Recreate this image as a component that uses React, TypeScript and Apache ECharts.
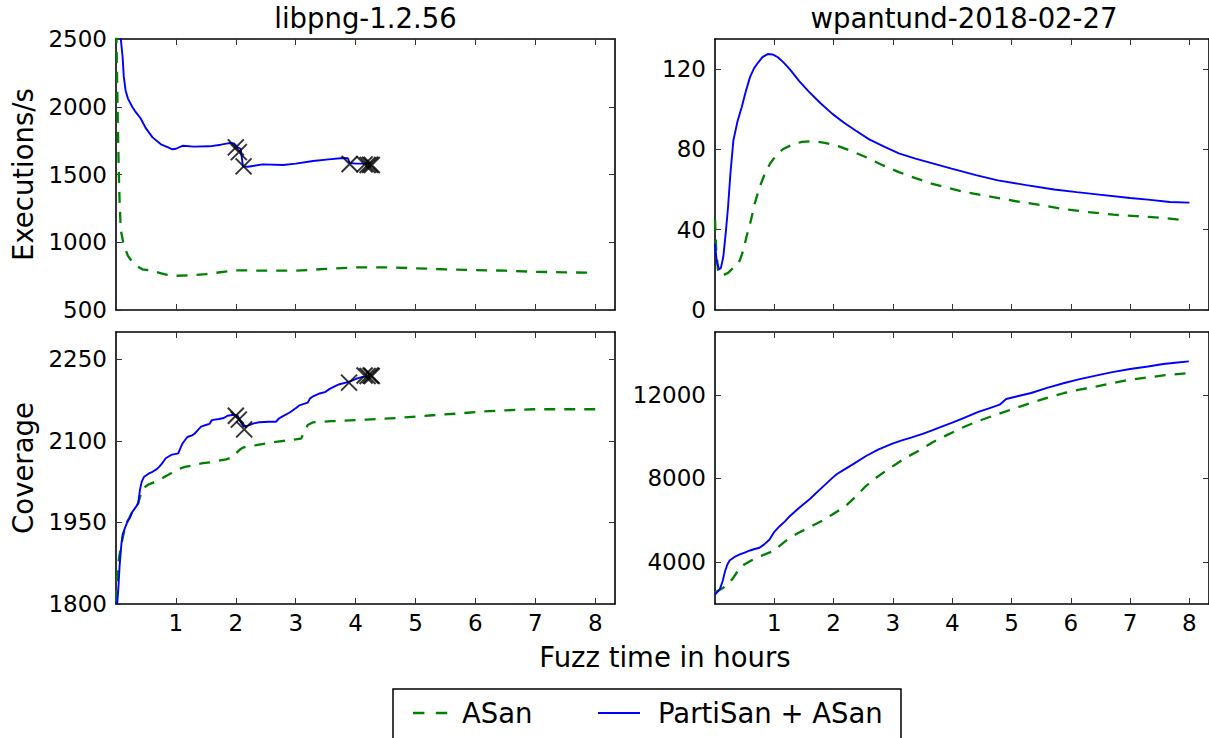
import React, { useEffect, useRef } from "react";
import * as echarts from "echarts";

// ---------- data (time in hours, values) ----------
const hourTicks = [1, 2, 3, 4, 5, 6, 7, 8];

// libpng executions/s
const libpngExecAsanT = [0, 0.015, 0.03, 0.045, 0.06, 0.08, 0.12, 0.16, 0.2, 0.25, 0.33, 0.44, 0.6, 0.8, 0.95, 1.2, 1.5, 2.0, 2.5, 3.0, 3.5, 4.0, 4.5, 5.0, 5.5, 6.0, 6.5, 7.0, 7.5, 8.0];
const libpngExecAsanV = [2700, 2300, 1900, 1550, 1300, 1090, 1000, 943, 900, 869, 830, 800, 790, 765, 752, 755, 765, 793, 790, 790, 803, 815, 815, 808, 800, 795, 790, 782, 778, 775];
const libpngExecPartiT = [0.05, 0.08, 0.11, 0.13, 0.16, 0.2, 0.27, 0.33, 0.41, 0.5, 0.61, 0.75, 0.87, 0.94, 1.0, 1.11, 1.3, 1.56, 1.75, 1.89, 1.97, 2.03, 2.08, 2.12, 2.2, 2.45, 2.79, 3.0, 3.29, 3.55, 3.79, 3.87, 3.9, 4.0, 4.1, 4.23];
const libpngExecPartiV = [2900, 2500, 2369, 2222, 2120, 2060, 2000, 1960, 1915, 1840, 1774, 1723, 1700, 1686, 1690, 1712, 1706, 1708, 1720, 1732, 1730, 1700, 1690, 1560, 1557, 1575, 1570, 1580, 1600, 1612, 1622, 1620, 1585, 1580, 1580, 1578];
const libpngExecCrashT = [2.0, 2.05, 2.13, 3.9, 4.15, 4.2, 4.24, 4.27];
const libpngExecCrashV = [1700, 1665, 1560, 1578, 1575, 1570, 1572, 1570];

// libpng coverage
const libpngCovAsanT = [0.0, 0.02, 0.05, 0.08, 0.11, 0.16, 0.22, 0.27, 0.33, 0.37, 0.41, 0.44, 0.55, 0.72, 0.85, 1.0, 1.15, 1.28, 1.45, 1.61, 1.84, 1.95, 2.0, 2.06, 2.11, 2.2, 2.34, 2.5, 2.73, 2.9, 3.09, 3.15, 3.2, 3.29, 3.6, 4.18, 4.7, 5.29, 5.7, 6.13, 6.5, 6.97, 7.5, 8.0];
const libpngCovAsanV = [1805, 1850, 1884, 1905, 1921, 1945, 1958, 1969, 1978, 1985, 2000, 2012, 2020, 2028, 2036, 2046, 2052, 2055, 2059, 2061, 2066, 2070, 2077, 2083, 2087, 2090, 2092, 2095, 2099, 2101, 2104, 2118, 2129, 2134, 2136, 2139, 2142, 2147, 2150, 2154, 2156, 2158, 2158, 2158];
const libpngCovPartiT = [0.02, 0.04, 0.06, 0.09, 0.11, 0.15, 0.19, 0.23, 0.27, 0.33, 0.37, 0.4, 0.43, 0.47, 0.55, 0.61, 0.68, 0.72, 0.78, 0.83, 0.92, 1.04, 1.08, 1.11, 1.19, 1.27, 1.31, 1.37, 1.42, 1.5, 1.56, 1.6, 1.72, 1.8, 1.86, 1.97, 2.03, 2.08, 2.13, 2.2, 2.3, 2.39, 2.55, 2.67, 2.72, 2.78, 2.9, 3.0, 3.06, 3.2, 3.24, 3.28, 3.4, 3.5, 3.56, 3.65, 3.73, 3.87, 3.95, 4.01, 4.1, 4.23];
const libpngCovPartiV = [1800, 1830, 1870, 1910, 1927, 1940, 1951, 1958, 1969, 1978, 1985, 2010, 2025, 2034, 2040, 2043, 2048, 2052, 2060, 2068, 2074, 2077, 2088, 2095, 2107, 2110, 2113, 2120, 2126, 2129, 2131, 2138, 2140, 2142, 2146, 2148, 2146, 2135, 2126, 2128, 2132, 2134, 2135, 2135, 2141, 2145, 2152, 2160, 2165, 2170, 2178, 2181, 2187, 2190, 2195, 2200, 2204, 2208, 2211, 2214, 2217, 2219];
const libpngCovCrashT = [2.0, 2.05, 2.14, 3.89, 4.15, 4.2, 4.25, 4.27];
const libpngCovCrashV = [2146, 2139, 2121, 2207, 2220, 2219, 2220, 2219];

// wpantund executions/s
const wpanExecAsanT = [0, 0.02, 0.05, 0.08, 0.15, 0.22, 0.28, 0.35, 0.42, 0.48, 0.53, 0.6, 0.67, 0.75, 0.84, 0.93, 1.03, 1.15, 1.31, 1.47, 1.65, 1.85, 2.09, 2.3, 2.54, 2.8, 3.1, 3.38, 3.65, 3.9, 4.21, 4.6, 5.05, 5.5, 5.89, 6.3, 6.72, 7.1, 7.56, 7.9];
const wpanExecAsanV = [45, 30, 20, 17.4, 17.5, 18.5, 20.2, 22, 24.8, 30, 36.4, 44, 53, 61, 67.9, 73, 77, 80.2, 82.5, 83.8, 84.1, 83.3, 81.5, 79.2, 76.2, 72.5, 68.7, 65.7, 63, 61, 58.8, 56.7, 54.3, 52.2, 50.2, 48.8, 47.5, 46.8, 45.9, 44.7];
const wpanExecPartiT = [0, 0.03, 0.07, 0.1, 0.14, 0.18, 0.22, 0.26, 0.31, 0.38, 0.45, 0.52, 0.59, 0.66, 0.73, 0.8, 0.89, 0.97, 1.06, 1.15, 1.26, 1.42, 1.59, 1.78, 1.98, 2.17, 2.37, 2.6, 2.87, 3.1, 3.38, 3.7, 3.99, 4.4, 4.77, 5.25, 5.72, 6.1, 6.44, 7.0, 7.3, 7.67, 8.0];
const wpanExecPartiV = [33, 24, 20.2, 21, 26.5, 38, 51.3, 68, 84.5, 94, 101, 109, 116, 120.5, 123.4, 126, 127.5, 127.3, 125.9, 123.5, 120, 114, 108.5, 103, 97.7, 93.4, 89.4, 85, 81.1, 78, 75.4, 72.8, 70.4, 67.2, 64.6, 62.2, 60, 58.7, 57.6, 55.8, 55, 53.8, 53.5];

// wpantund coverage
const wpanCovAsanT = [0, 0.14, 0.22, 0.31, 0.42, 0.5, 0.59, 0.78, 0.98, 1.1, 1.26, 1.45, 1.65, 1.82, 1.98, 2.2, 2.38, 2.54, 2.7, 2.87, 3.05, 3.21, 3.45, 3.65, 3.9, 4.16, 4.4, 4.66, 5.0, 5.33, 5.6, 5.89, 6.15, 6.44, 6.7, 7.0, 7.3, 7.56, 7.8, 7.99];
const wpanCovAsanV = [2550, 2778, 2950, 3255, 3733, 3900, 4048, 4300, 4525, 4800, 5165, 5460, 5752, 6000, 6277, 6673, 7150, 7627, 8000, 8343, 8680, 8983, 9350, 9699, 10060, 10415, 10700, 10968, 11300, 11608, 11850, 12085, 12250, 12400, 12560, 12720, 12830, 12926, 12990, 13040];
const wpanCovPartiT = [0, 0.08, 0.13, 0.17, 0.21, 0.25, 0.33, 0.42, 0.5, 0.59, 0.67, 0.75, 0.83, 0.92, 1.0, 1.09, 1.18, 1.26, 1.42, 1.59, 1.78, 1.98, 2.05, 2.15, 2.35, 2.54, 2.75, 2.98, 3.15, 3.32, 3.5, 3.65, 3.8, 3.99, 4.2, 4.44, 4.62, 4.8, 4.91, 5.1, 5.33, 5.6, 5.89, 6.15, 6.44, 6.7, 7.0, 7.3, 7.56, 7.8, 7.99];
const wpanCovPartiV = [2450, 2700, 3100, 3570, 3900, 4095, 4250, 4367, 4460, 4558, 4630, 4687, 4850, 5083, 5450, 5718, 5950, 6196, 6600, 6993, 7500, 8028, 8200, 8377, 8720, 9060, 9380, 9651, 9820, 9967, 10130, 10286, 10450, 10653, 10900, 11178, 11350, 11527, 11799, 11930, 12085, 12330, 12563, 12750, 12926, 13080, 13231, 13350, 13470, 13540, 13594];

// axis ticks
const libpngExecTicks = [500, 1000, 1500, 2000, 2500];
const libpngCovTicks = [1800, 1950, 2100, 2250];
const wpanExecTicks = [0, 40, 80, 120];
const wpanCovTicks = [4000, 8000, 12000];

const titles = ["libpng-1.2.56", "wpantund-2018-02-27"];
const yNames = ["Executions/s", "Coverage"];
const xName = "Fuzz time in hours";
const legendNames = ["ASan", "PartiSan + ASan"];

// ---------- styling ----------
const FONT = "DejaVu Sans";
const GREEN = "#008000";
const BLUE = "#0000ff";

const pairs = (t: number[], v: number[]) => t.map((x, i) => [x, v[i]]);

export default function App() {
  const ref = useRef<HTMLDivElement>(null);
  useEffect(() => {
    if (!ref.current) return;
    const chart = echarts.init(ref.current, null, { renderer: "svg" });

    const grids = [
      { left: 116, top: 39, width: 499, height: 271 },
      { left: 715, top: 39, width: 498, height: 271 },
      { left: 116, top: 332, width: 499, height: 272 },
      { left: 715, top: 332, width: 498, height: 272 },
    ];
    const yRanges = [
      { min: 500, max: 2500, ticks: libpngExecTicks },
      { min: 0, max: 135, ticks: wpanExecTicks },
      { min: 1800, max: 2300, ticks: libpngCovTicks },
      { min: 2000, max: 15000, ticks: wpanCovTicks },
    ];

    const axisLine = { show: true, onZero: false, lineStyle: { color: "#000", width: 1.6 } };
    const tickStyle = { color: "#333", width: 1 };
    const plain = (v: number) => String(v);

    const xAxis: any[] = [];
    const yAxis: any[] = [];
    grids.forEach((_, i) => {
      ["bottom", "top"].forEach((pos) => {
        xAxis.push({
          type: "value",
          gridIndex: i,
          position: pos,
          min: 0,
          max: 8.33,
          axisLine,
          splitLine: { show: false },
          axisTick: { show: true, inside: true, length: 6, customValues: hourTicks, lineStyle: tickStyle },
          axisLabel: {
            show: pos === "bottom" && i >= 2,
            customValues: hourTicks,
            formatter: plain,
            fontFamily: FONT,
            fontSize: 23,
            color: "#000",
            margin: 7,
          },
        });
      });
      ["left", "right"].forEach((pos) => {
        yAxis.push({
          type: "value",
          gridIndex: i,
          position: pos,
          min: yRanges[i].min,
          max: yRanges[i].max,
          axisLine,
          splitLine: { show: false },
          axisTick: { show: true, inside: true, length: 6, customValues: yRanges[i].ticks, lineStyle: tickStyle },
          axisLabel: {
            show: pos === "left",
            customValues: yRanges[i].ticks,
            formatter: plain,
            fontFamily: FONT,
            fontSize: 23,
            color: "#000",
            margin: 9,
          },
        });
      });
    });

    const asanLine = (i: number, data: number[][]) => ({
      type: "line",
      name: legendNames[0],
      xAxisIndex: 2 * i,
      yAxisIndex: 2 * i,
      data,
      showSymbol: false,
      symbol: "none",
      clip: true,
      lineStyle: { color: GREEN, width: 2.3, type: [11, 9] },
      z: 2,
    });
    const partiLine = (i: number, data: number[][]) => ({
      type: "line",
      name: legendNames[1],
      xAxisIndex: 2 * i,
      yAxisIndex: 2 * i,
      data,
      showSymbol: false,
      symbol: "none",
      clip: true,
      lineStyle: { color: BLUE, width: 1.9 },
      z: 3,
    });
    const crashes = (i: number, data: number[][]) => ({
      type: "scatter",
      name: "crash",
      xAxisIndex: 2 * i,
      yAxisIndex: 2 * i,
      data,
      symbol: "path://M0,0L10,10M10,0L0,10",
      symbolSize: 16,
      itemStyle: { color: "none", borderColor: "#000", borderWidth: 2 },
      z: 4,
    });

    const series = [
      asanLine(0, pairs(libpngExecAsanT, libpngExecAsanV)),
      partiLine(0, pairs(libpngExecPartiT, libpngExecPartiV)),
      crashes(0, pairs(libpngExecCrashT, libpngExecCrashV)),
      asanLine(1, pairs(wpanExecAsanT, wpanExecAsanV)),
      partiLine(1, pairs(wpanExecPartiT, wpanExecPartiV)),
      asanLine(2, pairs(libpngCovAsanT, libpngCovAsanV)),
      partiLine(2, pairs(libpngCovPartiT, libpngCovPartiV)),
      crashes(2, pairs(libpngCovCrashT, libpngCovCrashV)),
      asanLine(3, pairs(wpanCovAsanT, wpanCovAsanV)),
      partiLine(3, pairs(wpanCovPartiT, wpanCovPartiV)),
    ];

    const txt = (text: string, x: number, y: number, opts: any = {}) => ({
      type: "text",
      x,
      y,
      rotation: opts.rotation || 0,
      style: {
        text,
        fontFamily: FONT,
        fontSize: opts.fontSize || 27.5,
        fill: "#000",
        align: opts.align || "center",
        verticalAlign: "middle",
      },
    });

    const graphic = [
      txt(titles[0], 365.5, 18),
      txt(titles[1], 964, 18),
      txt(yNames[0], 23, 174.5, { rotation: Math.PI / 2 }),
      txt(yNames[1], 23, 468, { rotation: Math.PI / 2 }),
      txt(xName, 665, 657),
      {
        type: "rect",
        shape: { x: 393, y: 689, width: 508, height: 60 },
        style: { fill: "#fff", stroke: "#000", lineWidth: 1.5 },
      },
      {
        type: "line",
        shape: { x1: 413, y1: 713, x2: 448, y2: 713 },
        style: { stroke: GREEN, lineWidth: 2.3, lineDash: [11.4, 11.4] },
      },
      txt(legendNames[0], 462, 713, { align: "left" }),
      {
        type: "line",
        shape: { x1: 598, y1: 713, x2: 640, y2: 713 },
        style: { stroke: BLUE, lineWidth: 1.9 },
      },
      txt(legendNames[1], 658, 713, { align: "left" }),
    ];

    chart.setOption({
      animation: false,
      backgroundColor: "#fff",
      grid: grids.map((g) => ({ ...g, containLabel: false })),
      xAxis,
      yAxis,
      series,
      graphic,
    });
    return () => chart.dispose();
  }, []);

  return (
    <div
      ref={ref}
      style={{ position: "fixed", left: 0, top: 0, width: 1209, height: 738, background: "#fff" }}
    />
  );
}
